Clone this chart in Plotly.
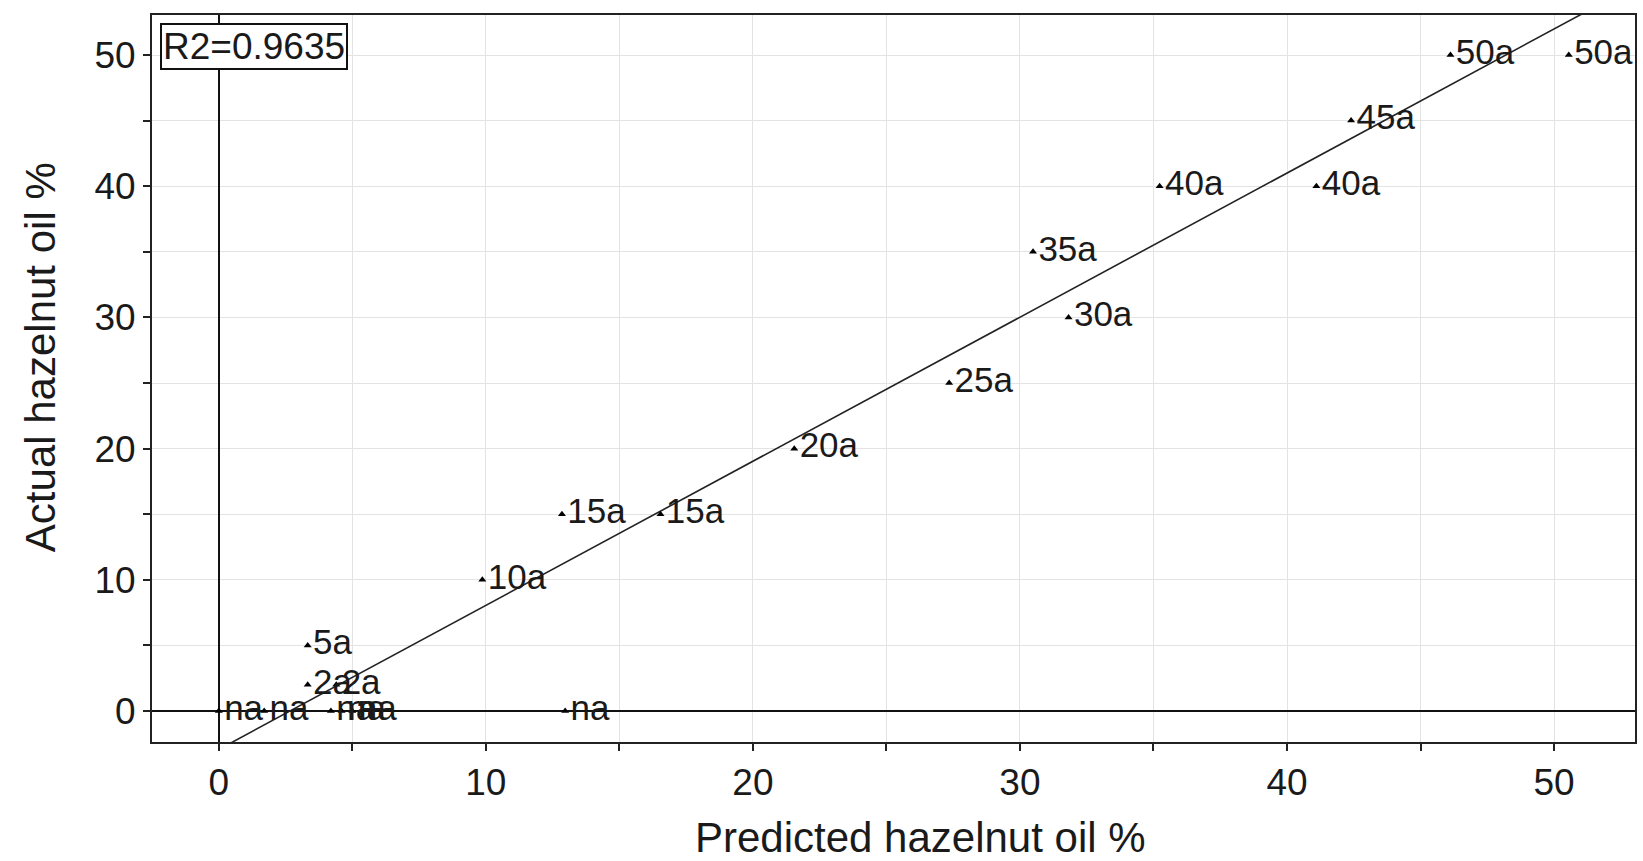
import plotly.graph_objects as go

# ---- data ----
predicted = [46.12, 50.55, 42.4, 35.23, 41.1, 30.49, 31.82, 27.35, 21.55,
             12.85, 16.54, 9.87, 3.33, 3.33, 4.4, 0.0, 1.7, 4.2, 4.6, 5.0, 12.97]
actual = [50, 50, 45, 40, 40, 35, 30, 25, 20,
          15, 15, 10, 5, 2, 2, 0, 0, 0, 0, 0, 0]
labels = ["50a", "50a", "45a", "40a", "40a", "35a", "30a", "25a", "20a",
          "15a", "15a", "10a", "5a", "2a", "2a", "na", "na", "na", "na", "na", "na"]
fit_slope = 1.0983
fit_intercept = -2.93
r2_text = "R2=0.9635"
x_title = "Predicted hazelnut oil %"
y_title = "Actual hazelnut oil %"

x_range = [-2.5, 53.03]
y_range = [-2.36, 53.05]

FONT = "Liberation Sans, Arial, Helvetica, sans-serif"
TXT = "#1a1a1a"

W, H = 1643, 861
ML, MR, MT, MB = 152, 6, 15, 119
PW, PH = W - ML - MR, H - MT - MB

fig = go.Figure()

# regression line
fx = [x_range[0] - 1, x_range[1] + 1]
fy = [fit_slope * v + fit_intercept for v in fx]
fig.add_trace(go.Scatter(x=fx, y=fy, mode="lines",
                         line=dict(color="#222222", width=1.6),
                         hoverinfo="skip", showlegend=False))

# points with labels
fig.add_trace(go.Scatter(
    x=predicted, y=actual, mode="markers+text", text=labels,
    textposition="middle right",
    textfont=dict(family=FONT, size=35, color=TXT),
    marker=dict(symbol="triangle-up", size=7, color="black"),
    showlegend=False, cliponaxis=True))

axis_common = dict(
    showline=True, linecolor="#222222", linewidth=2, mirror=True,
    ticks="outside", ticklen=7, tickwidth=1.5, tickcolor="#222222",
    dtick=10, tick0=0,
    showgrid=True, gridcolor="#e3e3e3", gridwidth=1,
    zeroline=True, zerolinecolor="#111111", zerolinewidth=2,
    tickfont=dict(family=FONT, size=37, color=TXT),
    minor=dict(dtick=5, tick0=0, ticks="outside", ticklen=7, tickwidth=1.5,
               tickcolor="#222222", showgrid=True, gridcolor="#e3e3e3", gridwidth=1),
)

fig.update_xaxes(range=x_range, **axis_common)
fig.update_yaxes(range=y_range, **axis_common)

fig.update_layout(
    width=W, height=H,
    margin=dict(l=ML, r=MR, t=MT, b=MB),
    plot_bgcolor="white", paper_bgcolor="white",
    font=dict(family=FONT, color=TXT),
    annotations=[
        dict(text=r2_text, xref="paper", yref="paper", x=(160 - ML) / PW,
             y=1 - (23 - MT) / PH,
             xanchor="left", yanchor="top", showarrow=False,
             font=dict(family=FONT, size=37, color=TXT),
             bordercolor="#111111", borderwidth=2, borderpad=1,
             bgcolor="white"),
        dict(text=x_title, xref="paper", yref="paper", x=(922 - ML) / PW,
             y=(H - MB - 838) / PH,
             xanchor="center", yanchor="middle", showarrow=False,
             font=dict(family=FONT, size=42, color=TXT)),
        dict(text=y_title, xref="paper", yref="paper", x=(40 - ML) / PW,
             y=(H - MB - 357) / PH, xanchor="center", yanchor="middle",
             showarrow=False, textangle=-90,
             font=dict(family=FONT, size=42, color=TXT)),
    ],
)

fig.write_html(
    "out.html",
    config={"displayModeBar": False},
    post_script="document.body.style.margin='0';document.body.style.overflow='hidden';",
)
